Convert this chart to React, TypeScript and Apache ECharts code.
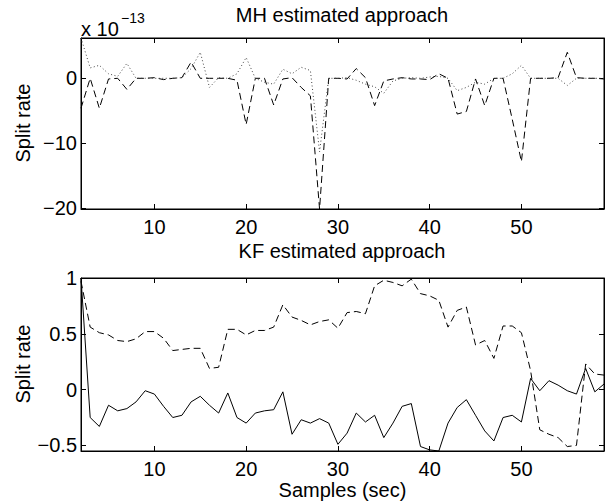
import React, { useEffect, useRef } from "react";
import * as echarts from "echarts";

const samples = [2,3,4,5,6,7,8,9,10,11,12,13,14,15,16,17,18,19,20,21,22,23,24,25,26,27,28,29,30,31,32,33,34,35,36,37,38,39,40,41,42,43,44,45,46,47,48,49,50,51,52,53,54,55,56,57,58,59];

// MH estimated approach (x 1e-13)
const mhDashed = [-4.6,0.0,-4.6,-0.1,0.0,-1.7,0.0,0.0,0.1,-0.2,0.0,0.1,2.5,0.0,0.0,0.0,0.0,-0.3,-7.1,0.0,0.0,-4.1,-0.1,0.1,-1.4,-2.7,-20.1,0.0,0.0,-0.1,1.5,0.1,-4.2,-0.4,-0.1,0.1,-0.1,-0.1,-0.2,0.7,0.0,-5.5,-5.1,-0.1,-4.2,0.0,0.0,-6.3,-12.8,0.0,0.0,0.0,0.1,4.0,0.1,0.0,0.0,-0.1];
const mhDotted = [6.2,1.6,2.0,0.7,0.3,2.3,0.0,0.0,0.0,0.0,0.0,0.1,1.5,4.0,-1.4,0.1,0.0,0.7,3.2,0.0,-0.6,-0.9,1.4,0.7,1.7,1.2,-11.3,0.0,0.0,0.1,-0.3,-0.9,-1.3,-2.3,-0.4,0.0,0.1,0.0,0.2,0.3,0.0,-1.9,-1.4,-0.6,-0.9,0.0,0.0,0.7,2.0,0.0,0.0,0.0,0.0,-1.1,0.0,0.0,0.0,0.0];

// KF estimated approach
const kfSolid = [1.0,-0.25,-0.33,-0.14,-0.19,-0.17,-0.11,-0.01,-0.04,-0.15,-0.25,-0.23,-0.11,-0.06,-0.14,-0.21,-0.03,-0.25,-0.30,-0.21,-0.19,-0.18,-0.02,-0.40,-0.27,-0.30,-0.26,-0.30,-0.49,-0.39,-0.21,-0.29,-0.23,-0.43,-0.30,-0.15,-0.125,-0.51,-0.54,-0.55,-0.30,-0.16,-0.09,-0.23,-0.37,-0.46,-0.25,-0.23,-0.29,0.10,-0.01,0.08,0.04,-0.01,-0.04,0.19,-0.02,0.05];
const kfDashed = [0.97,0.56,0.51,0.49,0.44,0.43,0.455,0.52,0.52,0.46,0.35,0.36,0.37,0.37,0.19,0.20,0.54,0.54,0.49,0.53,0.53,0.56,0.76,0.65,0.62,0.58,0.61,0.625,0.55,0.69,0.70,0.68,0.93,0.98,0.96,0.93,0.99,0.86,0.84,0.80,0.56,0.71,0.74,0.40,0.44,0.28,0.57,0.57,0.51,0.17,-0.36,-0.40,-0.43,-0.51,-0.50,0.23,0.14,0.13];

const xTicks = [10, 20, 30, 40, 50];
const mhYTicks = [-20, -10, 0];
const kfYTicks = [-0.5, 0, 0.5, 1];

const FONT = "'Liberation Sans', Arial, Helvetica, sans-serif";
const fmt = (v: number) => String(v).replace("-", "\u2212");

export default function App() {
  const ref = useRef<HTMLDivElement>(null);
  useEffect(() => {
    if (!ref.current) return;
    const chart = echarts.init(ref.current, undefined, { renderer: "svg" });
    const pair = (arr: number[]) => samples.map((s, i) => [s, arr[i]]);
    const tick = (vals: number[]) => ({ show: true, inside: true, length: 5, customValues: vals, lineStyle: { color: "#000", width: 1 } });
    const xBase = (grid: number, pos: string, labels: boolean, extra: any = {}) => ({
      type: "value", gridIndex: grid, position: pos, min: 2, max: 59,
      axisLine: { show: true, onZero: false, lineStyle: { color: "#000", width: 1 } },
      axisTick: tick(xTicks),
      axisLabel: { show: labels, customValues: xTicks, margin: 8, fontSize: 20, color: "#000", fontFamily: FONT },
      splitLine: { show: false },
      ...extra,
    });
    const yBase = (grid: number, pos: string, labels: boolean, min: number, max: number, ticks: number[]) => ({
      type: "value", gridIndex: grid, position: pos, min, max,
      axisLine: { show: true, onZero: false, lineStyle: { color: "#000", width: 1 } },
      axisTick: tick(ticks),
      axisLabel: { show: labels, customValues: ticks, margin: 4, fontSize: 20, color: "#000", fontFamily: FONT, formatter: fmt },
      splitLine: { show: false },
    });
    const lineS = (x: number, y: number, data: number[], type: any, color = "#000") => ({
      type: "line", xAxisIndex: x, yAxisIndex: y, data: pair(data), showSymbol: false, symbol: "none",
      lineStyle: { color, width: 1, type }, clip: true, z: 3,
    });
    chart.setOption({
      animation: false,
      textStyle: { fontFamily: FONT },
      title: [
        { text: "MH estimated approach", left: 342, top: 5, textAlign: "center", padding: 0, textStyle: { fontSize: 20, fontWeight: "normal", color: "#000", fontFamily: FONT } },
        { text: "KF estimated approach", left: 342, top: 241, textAlign: "center", padding: 0, textStyle: { fontSize: 20, fontWeight: "normal", color: "#000", fontFamily: FONT } },
      ],
      grid: [
        { left: 81, top: 38, width: 523, height: 171, show: true, borderColor: "#000", borderWidth: 1, backgroundColor: "transparent" },
        { left: 81, top: 278, width: 523, height: 173, show: true, borderColor: "#000", borderWidth: 1, backgroundColor: "transparent" },
      ],
      xAxis: [
        xBase(0, "bottom", true),
        xBase(1, "bottom", true, { name: "Samples (sec)", nameLocation: "middle", nameGap: 28, nameTextStyle: { fontSize: 20, color: "#000", fontFamily: FONT } }),
        xBase(0, "top", false),
        xBase(1, "top", false),
      ],
      yAxis: [
        yBase(0, "left", true, -20.1, 6.2, mhYTicks),
        yBase(1, "left", true, -0.55, 1, kfYTicks),
        yBase(0, "right", false, -20.1, 6.2, mhYTicks),
        yBase(1, "right", false, -0.55, 1, kfYTicks),
      ],
      series: [
        lineS(0, 0, mhDashed, [7, 4]),
        lineS(0, 0, mhDotted, [1, 2.5], "#444"),
        lineS(1, 1, kfSolid, "solid"),
        lineS(1, 1, kfDashed, [7, 4]),
      ],
      graphic: [
        { type: "text", x: 23, y: 123, rotation: Math.PI / 2, style: { text: "Split rate", font: `20px ${FONT}`, fill: "#000", align: "center", verticalAlign: "middle" } },
        { type: "text", x: 23, y: 364, rotation: Math.PI / 2, style: { text: "Split rate", font: `20px ${FONT}`, fill: "#000", align: "center", verticalAlign: "middle" } },
        { type: "text", x: 81, y: 39, style: { text: "x 10", font: `20px ${FONT}`, fill: "#000", align: "left", verticalAlign: "bottom" } },
        { type: "text", x: 121, y: 11, style: { text: "\u221213", font: `14px ${FONT}`, fill: "#000", align: "left", verticalAlign: "top" } },
      ],
    });
    return () => chart.dispose();
  }, []);
  return <div ref={ref} style={{ position: "absolute", left: 0, top: 0, width: 608, height: 504, background: "#fff" }} />;
}
